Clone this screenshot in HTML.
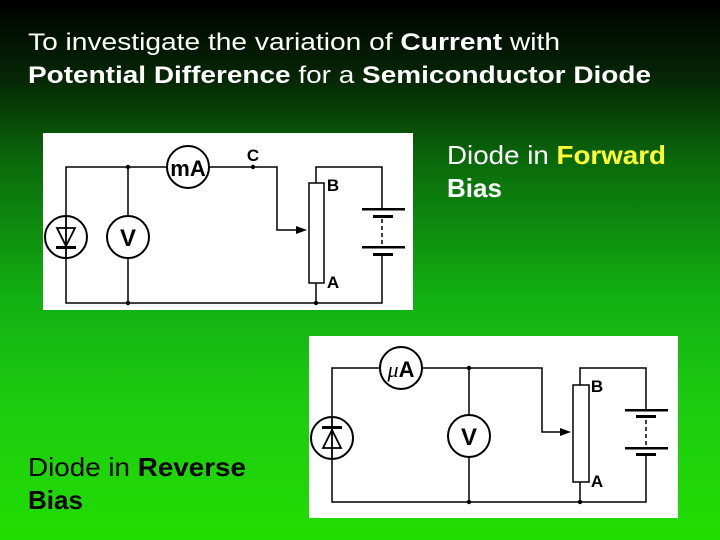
<!DOCTYPE html>
<html><head><style>
html,body{margin:0;padding:0;}
body{width:720px;height:540px;overflow:hidden;background:linear-gradient(to bottom,#000 0%,#062806 15%,#0a6a0a 30%,#12b012 55%,#1ccc10 75%,#22dd00 100%);}
svg{display:block}
</style></head><body>
<svg width="720" height="540" xmlns="http://www.w3.org/2000/svg" font-family="Liberation Sans, Arial, sans-serif">
<text x="28" y="50" font-size="24" fill="#fff" textLength="532" lengthAdjust="spacingAndGlyphs">To investigate the variation of <tspan font-weight="bold">Current</tspan> with</text>
<text x="28" y="83" font-size="24" fill="#fff" textLength="623" lengthAdjust="spacingAndGlyphs"><tspan font-weight="bold">Potential Difference</tspan> for a <tspan font-weight="bold">Semiconductor Diode</tspan></text>

<text x="447" y="164" font-size="26" fill="#fff" textLength="219" lengthAdjust="spacingAndGlyphs">Diode in <tspan font-weight="bold" fill="#ffff33">Forward</tspan></text>
<text x="447" y="197" font-size="26" fill="#fff" font-weight="bold">Bias</text>
<text x="28" y="476" font-size="26" fill="#000" textLength="218" lengthAdjust="spacingAndGlyphs">Diode in <tspan font-weight="bold">Reverse</tspan></text>
<text x="28" y="509" font-size="26" fill="#000" font-weight="bold">Bias</text>

<!-- Diagram 1 -->
<rect x="43" y="133" width="370" height="177" fill="#fff"/>
<g stroke="#000" stroke-width="1.5" fill="none">
<path d="M66 216 V167 H167 M209 167 H277 V230 H300 M66 258 V303 H382 V254 M382 209 V167 H316 V183 M316 283 V303 M128 167 V216 M128 258 V303"/>
<circle cx="66" cy="237" r="21" fill="#fff" stroke-width="2"/>
<circle cx="128" cy="237" r="21" fill="#fff" stroke-width="2"/>
<circle cx="188" cy="167" r="21" fill="#fff" stroke-width="2"/>
<rect x="309" y="183" width="15" height="100" fill="#fff"/>
<path d="M57 228 L75 228 L66 246 Z M66 216 V258" stroke-width="1.8"/>
<path d="M382 219 V246" stroke-dasharray="4 3"/>
</g>
<path d="M296 226 L307 230 L296 234 Z"/>
<rect x="56" y="246" width="20" height="3"/>
<rect x="362" y="208" width="43" height="2.5"/><rect x="373" y="215" width="20" height="3"/>
<rect x="362" y="246" width="43" height="2.5"/><rect x="373" y="253" width="20" height="3"/>
<circle cx="253" cy="167" r="2.2"/><circle cx="128" cy="167" r="2.2"/><circle cx="128" cy="303" r="2.2"/><circle cx="316" cy="303" r="2.2"/>
<g font-weight="bold" text-anchor="middle">
<text x="188" y="176" font-size="22">mA</text>
<text x="128" y="246" font-size="24">V</text>
<text x="253" y="161" font-size="17">C</text>
<text x="333" y="191" font-size="17">B</text>
<text x="333" y="288" font-size="17">A</text>
</g>

<!-- Diagram 2 -->
<rect x="309" y="336" width="369" height="182" fill="#fff"/>
<g stroke="#000" stroke-width="1.5" fill="none">
<path d="M332 417 V368 H380 M422 368 H542 V432 H564 M332 459 V502 H646 V454 M646 410 V368 H580 V385 M580 482 V502 M469 368 V415 M469 457 V502"/>
<circle cx="332" cy="438" r="21" fill="#fff" stroke-width="2"/>
<circle cx="469" cy="436" r="21" fill="#fff" stroke-width="2"/>
<circle cx="401" cy="368" r="21" fill="#fff" stroke-width="2"/>
<rect x="573" y="385" width="16" height="97" fill="#fff"/>
<path d="M323 448 L341 448 L332 430 Z M332 417 V459" stroke-width="1.8"/>
<path d="M646 420 V446" stroke-dasharray="4 3"/>
</g>
<path d="M560 428 L571 432 L560 436 Z"/>
<rect x="322" y="426" width="20" height="3"/>
<rect x="625" y="409" width="43" height="2.5"/><rect x="636" y="415" width="20" height="3"/>
<rect x="625" y="447" width="43" height="2.5"/><rect x="636" y="453" width="20" height="3"/>
<circle cx="469" cy="368" r="2.2"/><circle cx="469" cy="502" r="2.2"/><circle cx="580" cy="502" r="2.2"/>
<g font-weight="bold" text-anchor="middle">
<text x="401" y="377" font-size="22"><tspan font-style="italic" font-weight="normal" font-family="Liberation Serif, serif">μ</tspan>A</text>
<text x="469" y="445" font-size="24">V</text>
<text x="597" y="392" font-size="17">B</text>
<text x="597" y="487" font-size="17">A</text>
</g>
</svg>
</body></html>
